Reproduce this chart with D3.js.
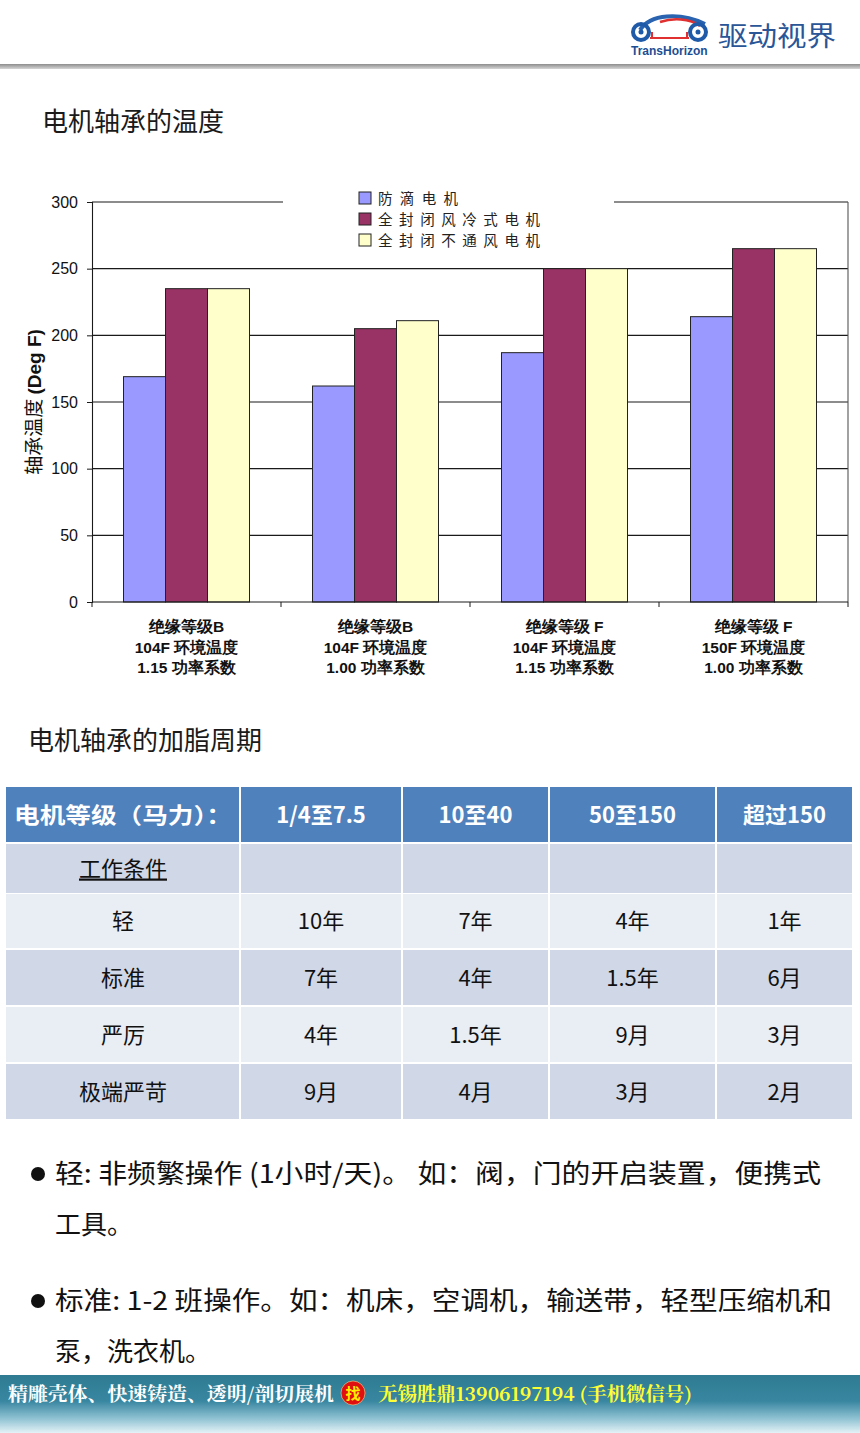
<!DOCTYPE html>
<html><head><meta charset="utf-8">
<script src="https://cdn.jsdelivr.net/npm/d3@7/dist/d3.min.js"></script>
<style>
html,body{margin:0;padding:0;background:#fff;}
svg{display:block;}
</style></head>
<body>
<div id="root"></div>
<script>
// ---------- DATA ----------
const categories = [
  ["绝缘等级B", "104F 环境温度", "1.15 功率系数"],
  ["绝缘等级B", "104F 环境温度", "1.00 功率系数"],
  ["绝缘等级 F", "104F 环境温度", "1.15 功率系数"],
  ["绝缘等级 F", "150F 环境温度", "1.00 功率系数"]
];
const seriesNames = ["防滴电机", "全封闭风冷式电机", "全封闭不通风电机"];
const dripProof = [169, 162, 187, 214];
const tefc = [235, 205, 250, 265];
const tenv = [235, 211, 250, 265];
const yTicks = [0, 50, 100, 150, 200, 250, 300];

const tableHeader = ["电机等级（马力）：", "1/4至7.5", "10至40", "50至150", "超过150"];
const tableRows = [
  ["工作条件", "", "", "", ""],
  ["轻", "10年", "7年", "4年", "1年"],
  ["标准", "7年", "4年", "1.5年", "6月"],
  ["严厉", "4年", "1.5年", "9月", "3月"],
  ["极端严苛", "9月", "4月", "3月", "2月"]
];
const bullets = [
  ["轻:  非频繁操作 (1小时/天)。 如：阀，门的开启装置，便携式", "工具。"],
  ["标准: 1-2 班操作。如：机床，空调机，输送带，轻型压缩机和", "泵，洗衣机。"]
];

// ---------- PAGE ----------
const W = 860, H = 1433;
const svg = d3.select("#root").append("svg").attr("width", W).attr("height", H);
const defs = svg.append("defs");
const CJK = "'Noto Sans CJK SC','Noto Sans',sans-serif";

// header line
const hg = defs.append("linearGradient").attr("id","hline").attr("x1",0).attr("y1",0).attr("x2",0).attr("y2",1);
hg.append("stop").attr("offset",0).attr("stop-color","#8d8d8d");
hg.append("stop").attr("offset",1).attr("stop-color","#d6d6d6");
svg.append("rect").attr("x",0).attr("y",64).attr("width",W).attr("height",5).attr("fill","url(#hline)");

// logo
const logo = svg.append("g");
logo.append("path").attr("d","M640,30 C650,14 680,12 705,24").attr("fill","none").attr("stroke","#2a63b0").attr("stroke-width",4);
logo.append("path").attr("d","M660,22 C672,18 690,18 700,26").attr("fill","none").attr("stroke","#e03030").attr("stroke-width",2.5);
logo.append("circle").attr("cx",641).attr("cy",32).attr("r",8).attr("fill","none").attr("stroke","#1f5aa8").attr("stroke-width",4);
logo.append("circle").attr("cx",641).attr("cy",32).attr("r",2.5).attr("fill","#1f5aa8");
logo.append("circle").attr("cx",698).attr("cy",32).attr("r",8).attr("fill","none").attr("stroke","#1f5aa8").attr("stroke-width",4);
logo.append("circle").attr("cx",698).attr("cy",32).attr("r",2.5).attr("fill","#1f5aa8");
logo.append("path").attr("d","M650,38 L689,38").attr("stroke","#e03030").attr("stroke-width",2);
logo.append("path").attr("d","M652,38 L652,32 M687,38 L687,32").attr("stroke","#e03030").attr("stroke-width",2);
logo.append("text").attr("x",631).attr("y",55).attr("font-family","'Liberation Sans',Arial,sans-serif").attr("font-weight","bold")
  .attr("font-size",12).attr("fill","#1d4e94").text("TransHorizon");
logo.append("text").attr("x",718).attr("y",46).attr("font-family",CJK).attr("font-size",27).attr("fill","#2a5597")
  .attr("textLength",118).attr("lengthAdjust","spacingAndGlyphs").text("驱动视界");

// titles
svg.append("text").attr("x",42).attr("y",131).attr("font-family",CJK).attr("font-size",26).attr("fill","#1a1a1a").text("电机轴承的温度");
svg.append("text").attr("x",28).attr("y",750).attr("font-family",CJK).attr("font-size",26).attr("fill","#1a1a1a").text("电机轴承的加脂周期");

// ---------- CHART ----------
const plot = {left: 92, right: 848, top: 202, bottom: 602};
const x0 = d3.scaleBand().domain(d3.range(categories.length)).range([plot.left, plot.right]).paddingInner(0).paddingOuter(0);
const x1 = d3.scaleBand().domain(d3.range(seriesNames.length)).range([0, x0.bandwidth()]).paddingInner(0).paddingOuter(0.75);
const y = d3.scaleLinear().domain([0, 300]).range([plot.bottom, plot.top]);
const colors = ["#9999FF", "#993366", "#FFFFCC"];
const seriesVals = [dripProof, tefc, tenv];

const chart = svg.append("g");
// gridlines
chart.append("g").selectAll("line").data(yTicks.filter(d=>d>0)).join("line")
  .attr("x1",plot.left).attr("x2",plot.right).attr("y1",d=>y(d)).attr("y2",d=>y(d))
  .attr("stroke","#1a1a1a").attr("stroke-width",1.1);
// right frame
chart.append("line").attr("x1",plot.right).attr("x2",plot.right).attr("y1",plot.top).attr("y2",plot.bottom).attr("stroke","#555").attr("stroke-width",1.1);

// bars
const groups = chart.append("g").selectAll("g").data(categories).join("g").attr("transform",(d,i)=>`translate(${x0(i)},0)`);
groups.selectAll("rect").data((d,i)=>seriesVals.map((s,j)=>({j, v:s[i]}))).join("rect")
  .attr("x",d=>x1(d.j)).attr("width",x1.bandwidth()).attr("y",d=>y(d.v)).attr("height",d=>y(0)-y(d.v))
  .attr("fill",d=>colors[d.j]).attr("stroke","#222").attr("stroke-width",1);

// axes
const yAxis = d3.axisLeft(y).tickValues(yTicks).tickSize(5).tickPadding(9);
const ya = chart.append("g").attr("transform",`translate(${plot.left},0)`).call(yAxis);
ya.select(".domain").attr("stroke","#1a1a1a").attr("stroke-width",1.1);
ya.selectAll(".tick line").attr("stroke","#1a1a1a");
ya.selectAll("text").attr("font-family","'Liberation Sans',Arial,sans-serif").attr("font-size",16).attr("fill","#111");

const xa = chart.append("g").attr("transform",`translate(0,${plot.bottom})`);
xa.append("line").attr("x1",plot.left).attr("x2",plot.right).attr("stroke","#1a1a1a").attr("stroke-width",1.1);
xa.selectAll(".xt").data(d3.range(categories.length+1)).join("line").attr("class","xt")
  .attr("x1",i=>i<categories.length?x0(i):plot.right).attr("x2",i=>i<categories.length?x0(i):plot.right)
  .attr("y1",0).attr("y2",5).attr("stroke","#1a1a1a");
const catG = xa.selectAll(".cat").data(categories).join("text").attr("class","cat")
  .attr("x",(d,i)=>x0(i)+x0.bandwidth()/2).attr("y",30)
  .attr("text-anchor","middle").attr("font-family","'Liberation Sans Narrow','Liberation Sans',Arial,sans-serif")
  .attr("font-weight","bold").attr("font-size",15.5).attr("fill","#111");
catG.selectAll("tspan").data(d=>d).join("tspan").attr("x",function(){return this.parentNode.getAttribute("x");})
  .attr("dy",(d,k)=>k===0?0:20.5).text(d=>d);

// y label
const yl = chart.append("text").attr("transform","translate(41,402) rotate(-90)").attr("text-anchor","middle")
  .attr("font-size",19).attr("fill","#111");
yl.append("tspan").attr("font-family",CJK).text("轴承温度 ");
yl.append("tspan").attr("font-family","'Liberation Sans',Arial,sans-serif").attr("font-weight","bold").text("(Deg F)");

// legend
const legendWidths = [80, 162, 162];
const leg = chart.append("g");
leg.append("rect").attr("x",283).attr("y",184).attr("width",331).attr("height",72).attr("fill","#fff");
const li = leg.selectAll("g").data(seriesNames).join("g").attr("transform",(d,i)=>`translate(359,${192+i*21})`);
li.append("rect").attr("width",12).attr("height",12).attr("fill",(d,i)=>colors[i]).attr("stroke","#222").attr("stroke-width",1);
li.append("text").attr("x",19).attr("y",12).attr("font-family",CJK).attr("font-size",14.5).attr("fill","#222")
  .attr("textLength",(d,i)=>legendWidths[i]).attr("lengthAdjust","spacing").text(d=>d);

// ---------- TABLE ----------
const colX = [6, 240, 402, 549, 716, 853];
const rowY = [787, 844, 894, 950, 1007, 1064];
const rowH = [55, 49, 54, 55, 55, 55];
const tbl = svg.append("g");
const allRows = [tableHeader].concat(tableRows);
allRows.forEach((row, r) => {
  row.forEach((cell, c) => {
    const fill = r === 0 ? "#4F81BD" : (r % 2 === 1 ? "#D0D8E8" : "#E9EDF4");
    tbl.append("rect").attr("x", colX[c] + (c>0?1:0)).attr("y", rowY[r]).attr("width", colX[c+1]-colX[c]-(c>0?1:0)-1)
      .attr("height", rowH[r]).attr("fill", fill);
    if (cell) {
      const t = tbl.append("text").attr("x", (colX[c]+colX[c+1])/2).attr("y", rowY[r] + rowH[r]/2 + 8)
        .attr("text-anchor","middle").attr("font-family", CJK).attr("font-size", 22)
        .attr("fill", r===0 ? "#fff" : "#111").attr("font-weight", r===0 ? "bold" : "normal").text(cell);
      if (r===0 && c===0) t.attr("textLength", 218).attr("lengthAdjust","spacingAndGlyphs");
      if (r===1 && c===0) t.attr("text-decoration","underline");
    }
  });
});

// ---------- BULLETS ----------
const bl = svg.append("g");
const bulletY = [1183, 1310];
bullets.forEach((b, i) => {
  bl.append("circle").attr("cx", 38).attr("cy", bulletY[i]-9).attr("r", 7).attr("fill", "#111");
  b.forEach((line, k) => {
    const t = bl.append("text").attr("x", 55).attr("y", bulletY[i] + k*51).attr("font-family", CJK)
      .attr("font-size", 26).attr("fill", "#111").text(line);
    if (k === 0) t.attr("textLength", i===0 ? 766 : 777).attr("lengthAdjust","spacingAndGlyphs");
  });
});

// ---------- FOOTER ----------
const fg = defs.append("linearGradient").attr("id","foot").attr("x1",0).attr("y1",0).attr("x2",0).attr("y2",1);
fg.append("stop").attr("offset",0).attr("stop-color","#2e7b92");
fg.append("stop").attr("offset",0.45).attr("stop-color","#3886a0");
fg.append("stop").attr("offset",0.75).attr("stop-color","#8fc2d3");
fg.append("stop").attr("offset",1).attr("stop-color","#e4f2f6");
svg.append("rect").attr("x",0).attr("y",1375).attr("width",W).attr("height",58).attr("fill","url(#foot)");
const serif = "'Noto Serif CJK SC','Liberation Serif','Noto Sans CJK SC',serif";
svg.append("text").attr("x",8).attr("y",1401).attr("font-family",serif).attr("font-weight","bold").attr("font-size",19)
  .attr("fill","#fff").attr("textLength",326).attr("lengthAdjust","spacingAndGlyphs").text("精雕壳体、快速铸造、透明/剖切展机");
svg.append("circle").attr("cx",353).attr("cy",1393).attr("r",12).attr("fill","#e01010").attr("stroke","#ffff99").attr("stroke-width",0.5);
svg.append("text").attr("x",353).attr("y",1399).attr("text-anchor","middle").attr("font-family",CJK).attr("font-weight","bold")
  .attr("font-size",15).attr("fill","#ffee00").text("找");
svg.append("text").attr("x",378).attr("y",1401).attr("font-family",serif).attr("font-weight","bold").attr("font-size",19)
  .attr("fill","#ffff33").attr("textLength",314).attr("lengthAdjust","spacingAndGlyphs").text("无锡胜鼎13906197194 (手机微信号)");
</script>
</body></html>
